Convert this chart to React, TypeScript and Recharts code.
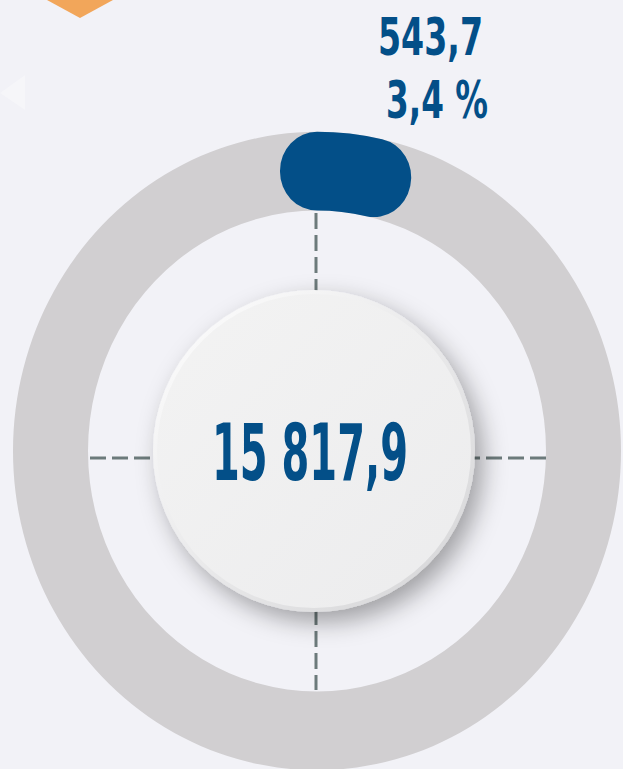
import { PieChart, Pie, Cell } from 'recharts';

// slice names / values
const sliceNames = ['share', 'rest'];
const sliceValues = [543.7, 15274.2];
const sliceColors = ['#034f88', 'none'];
const totalValue = 15817.9;

const W = 623;
const H = 769;
const CX = 317;
const CY = 451;

const data = sliceNames.map((name, i) => ({ name, value: sliceValues[i] }));
const track = [{ name: 'total', value: totalValue }];

function fmt(v: number) {
  const [i, d] = v.toFixed(1).split('.');
  return i.replace(/\B(?=(\d{3})+(?!\d))/g, ' ') + ',' + d;
}

const pct = ((sliceValues[0] / totalValue) * 100).toFixed(1).replace('.', ',') + ' %';

const textStyle = {
  fontFamily: '"DejaVu Sans Condensed", "DejaVu Sans", sans-serif',
  fontWeight: 700,
};

export default function App() {
  return (
    <div style={{ position: 'absolute', left: 0, top: 0, width: W, height: H, background: '#f2f2f7', overflow: 'hidden' }}>
      {/* ring is slightly taller than wide in the original */}
      <div
        style={{
          position: 'absolute',
          left: 0,
          top: 0,
          width: W,
          height: H,
          transform: 'scaleY(1.05)',
          transformOrigin: `${CX}px ${CY}px`,
        }}
      >
        <PieChart width={W} height={H} margin={{ top: 0, right: 0, bottom: 0, left: 0 }}>
          <Pie
            data={track}
            dataKey="value"
            cx={CX}
            cy={CY}
            innerRadius={229}
            outerRadius={304}
            startAngle={90}
            endAngle={-270}
            fill="#d1cfd1"
            stroke="none"
            isAnimationActive={false}
          />
          <Pie
            data={data}
            dataKey="value"
            cx={CX}
            cy={CY}
            innerRadius={266}
            outerRadius={267}
            startAngle={90}
            endAngle={-270}
            isAnimationActive={false}
          >
            {data.map((d, i) => (
              <Cell
                key={d.name}
                fill={sliceColors[i]}
                stroke={i === 0 ? sliceColors[0] : 'none'}
                strokeWidth={i === 0 ? 74 : 0}
                strokeLinejoin="round"
              />
            ))}
          </Pie>
        </PieChart>
      </div>

      <svg width={W} height={H} style={{ position: 'absolute', left: 0, top: 0, pointerEvents: 'none' }}>
        <defs>
          <filter id="sh" x="-30%" y="-30%" width="160%" height="160%">
            <feDropShadow dx="8" dy="10" stdDeviation="12" floodColor="#000" floodOpacity="0.34" />
          </filter>
          <linearGradient id="rim" x1="0" y1="0" x2="1" y2="1">
            <stop offset="0%" stopColor="#ffffff" />
            <stop offset="100%" stopColor="#d4d4d6" />
          </linearGradient>
          <linearGradient id="face" x1="0" y1="0" x2="1" y2="1">
            <stop offset="0%" stopColor="#f3f3f3" />
            <stop offset="100%" stopColor="#ececed" />
          </linearGradient>
        </defs>

        <polygon points="47,0 113,0 80,18" fill="#f2a65a" />
        <polygon points="0,93 25,75 25,110" fill="#ffffff" opacity={0.3} />

        <line x1={316} y1={213} x2={316} y2={690} stroke="#6c7a7b" strokeWidth={3} strokeDasharray="16 6" />
        <line x1={90} y1={458} x2={547} y2={458} stroke="#6c7a7b" strokeWidth={3} strokeDasharray="16 6" />

        <circle cx={314} cy={451} r={161} fill="url(#rim)" filter="url(#sh)" />
        <circle cx={314} cy={451} r={157} fill="url(#face)" />

        <text x={212} y={480} fontSize={78} fill="#034f88" textLength={196} lengthAdjust="spacingAndGlyphs" style={textStyle}>
          {fmt(totalValue)}
        </text>
        <text x={378} y={55} fontSize={51} fill="#034f88" textLength={105} lengthAdjust="spacingAndGlyphs" style={textStyle}>
          {fmt(sliceValues[0])}
        </text>
        <text x={386} y={118} fontSize={51} fill="#034f88" textLength={102} lengthAdjust="spacingAndGlyphs" style={textStyle}>
          {pct}
        </text>
      </svg>
    </div>
  );
}
